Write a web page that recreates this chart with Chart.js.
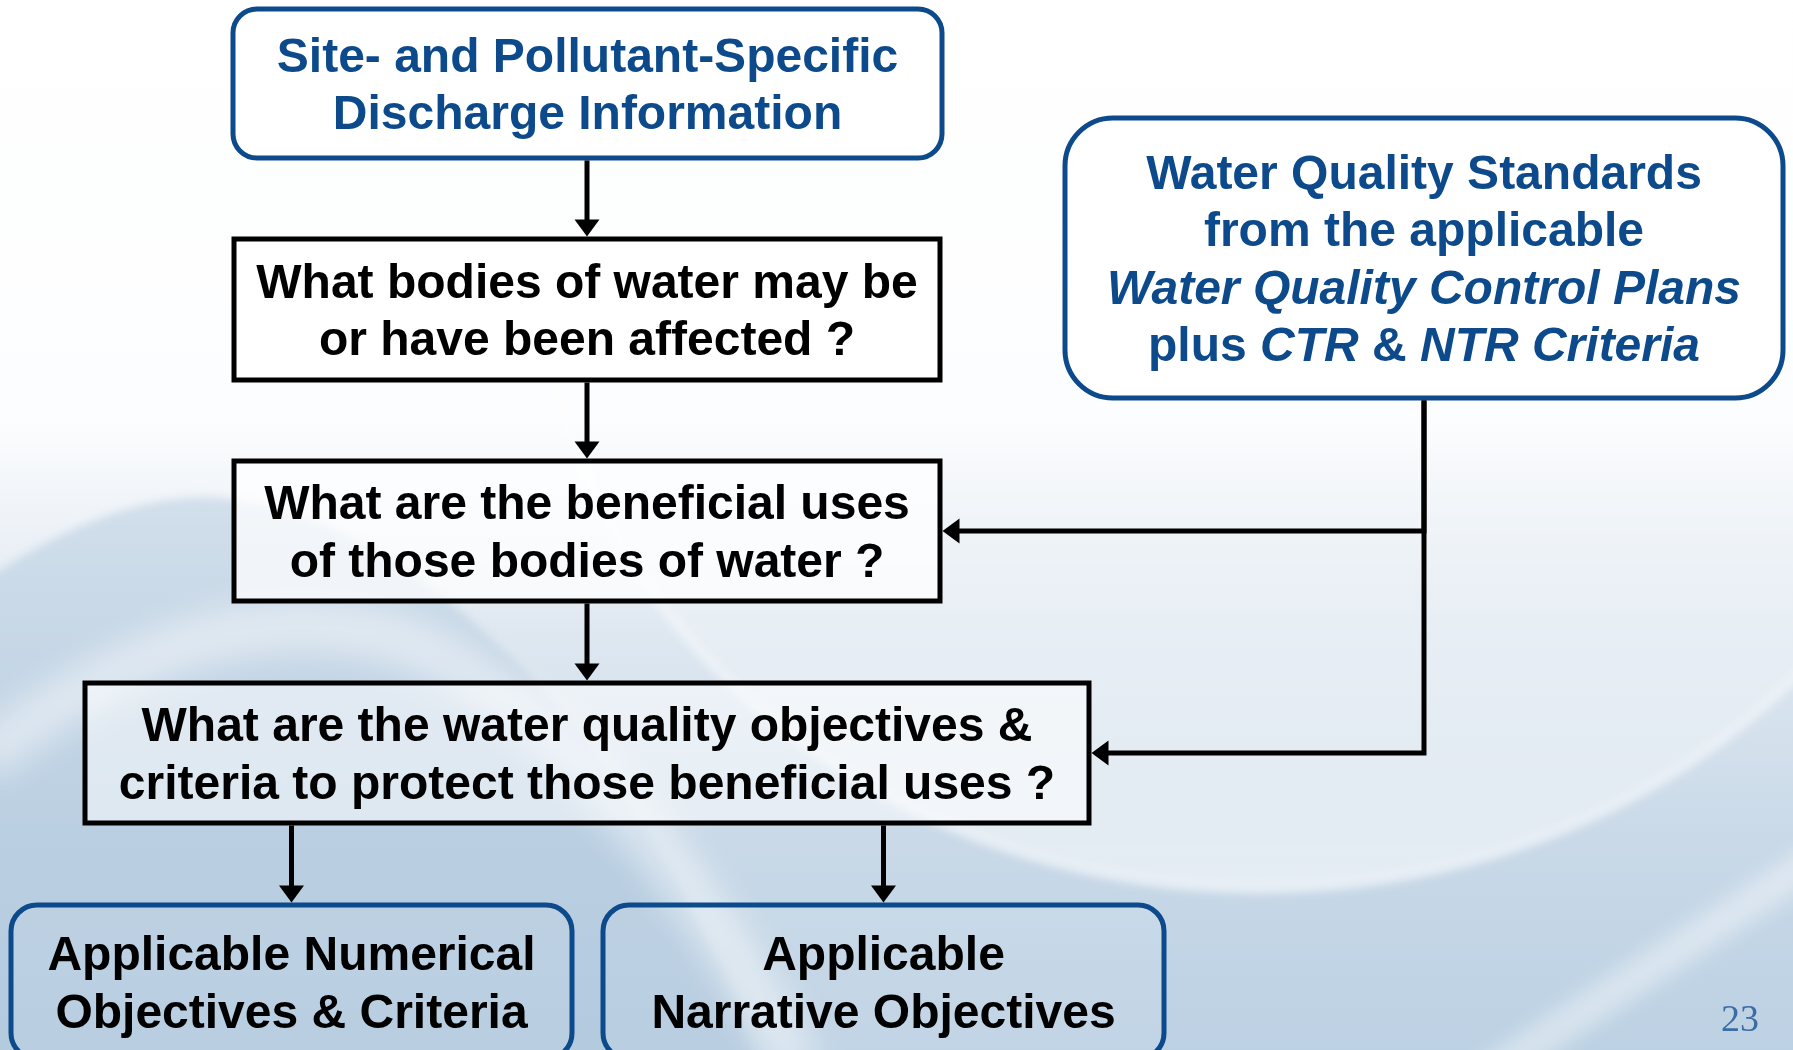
<!DOCTYPE html>
<html><head><meta charset="utf-8">
<script src="https://cdn.jsdelivr.net/npm/chart.js@4.4.1/dist/chart.umd.min.js"></script>
<style>html,body{margin:0;padding:0;background:#fff;overflow:hidden}canvas{display:block}</style>
</head><body>
<canvas id="c" width="1793" height="1050"></canvas>
<script>
// ---------- DATA ----------
const nodeIds = ['source', 'bodies', 'uses', 'objectives', 'standards', 'numerical', 'narrative'];
// text lines per node; _..._ marks italic runs
const nodeText = [
  ['Site- and Pollutant-Specific', 'Discharge Information'],
  ['What bodies of water may be', 'or have been affected ?'],
  ['What are the beneficial uses', 'of those bodies of water ?'],
  ['What are the water quality objectives &', 'criteria to protect those beneficial uses ?'],
  ['Water Quality Standards', 'from the applicable', '_Water Quality Control Plans_', 'plus _CTR_ & _NTR Criteria_'],
  ['Applicable Numerical', 'Objectives & Criteria'],
  ['Applicable', 'Narrative Objectives']
];
const edgeFrom = ['source', 'bodies', 'uses', 'objectives', 'objectives', 'standards', 'standards'];
const edgeTo   = ['bodies', 'uses', 'objectives', 'numerical', 'narrative', 'uses', 'objectives'];
const pageNumber = '23';

// ---------- LAYOUT & STYLE ----------
const W = 1793, H = 1050;
const BLUE = '#0d4a8b';
const layout = {
  source:     { x: 233,  y: 9,   w: 709,  h: 149, round: 24, stroke: BLUE,   fill: '#ffffff',                color: BLUE },
  bodies:     { x: 234,  y: 239, w: 706,  h: 141, round: 0,  stroke: '#000', fill: '#ffffff',                color: '#000' },
  uses:       { x: 234,  y: 461, w: 706,  h: 140, round: 0,  stroke: '#000', fill: 'rgba(255,255,255,0.72)', color: '#000' },
  objectives: { x: 85,   y: 683, w: 1004, h: 140, round: 0,  stroke: '#000', fill: 'rgba(255,255,255,0.5)',  color: '#000' },
  standards:  { x: 1065, y: 118, w: 718,  h: 280, round: 48, stroke: BLUE,   fill: '#ffffff',                color: BLUE },
  numerical:  { x: 11,   y: 905, w: 561,  h: 154, round: 26, stroke: BLUE,   fill: 'rgba(255,255,255,0.08)', color: '#000' },
  narrative:  { x: 603,  y: 905, w: 561,  h: 154, round: 26, stroke: BLUE,   fill: 'rgba(255,255,255,0.08)', color: '#000' }
};
const FONT = '"Liberation Sans", Arial, Helvetica, sans-serif';
const FONT_SIZE = 48, LINE_H = 57.5, TEXT_DY = 4, BORDER = 5, LINE_W = 5, ARROW_L = 17, ARROW_W = 25;

function box(id) {
  const b = layout[id];
  return { l: b.x, r: b.x + b.w, t: b.y, b: b.y + b.h, cx: b.x + b.w / 2, cy: b.y + b.h / 2 };
}
function route(fromId, toId) {
  const f = box(fromId), t = box(toId);
  if (t.cx > f.l && t.cx < f.r) return [{ x: t.cx, y: f.b + BORDER / 2 }, { x: t.cx, y: t.t - BORDER / 2 }];
  return [{ x: f.cx, y: f.b + BORDER / 2 }, { x: f.cx, y: t.cy }, { x: t.r + BORDER / 2, y: t.cy }];
}
const routes = edgeFrom.map((f, i) => route(f, edgeTo[i]));

const datasets = routes.map(pts => {
  const d = pts.map(p => ({ x: p.x, y: p.y }));
  const a = d[d.length - 2], b = d[d.length - 1];
  const len = Math.hypot(b.x - a.x, b.y - a.y);
  d[d.length - 1] = { x: b.x - (b.x - a.x) / len * (ARROW_L - 2), y: b.y - (b.y - a.y) / len * (ARROW_L - 2) };
  return { data: d, showLine: true, borderColor: '#000', borderWidth: LINE_W, pointRadius: 0,
           pointHoverRadius: 0, fill: false, tension: 0, clip: false, borderJoinStyle: 'miter', borderCapStyle: 'butt' };
});

function drawBackground(ctx) {
  ctx.save();
  const g = ctx.createLinearGradient(0, 0, 0, H);
  g.addColorStop(0, '#ffffff'); g.addColorStop(0.4, '#fcfdfe'); g.addColorStop(0.6, '#dfe8f1');
  g.addColorStop(0.8, '#c9d9e8'); g.addColorStop(1, '#bcd1e3');
  ctx.fillStyle = g; ctx.fillRect(0, 0, W, H);

  // lighter ellipse (right-centre)
  ctx.filter = 'blur(5px)';
  ctx.beginPath(); ctx.ellipse(1260, 249, 720, 640, 0, 0, Math.PI * 2);
  const lg = ctx.createLinearGradient(0, 380, 0, 890);
  lg.addColorStop(0, 'rgba(255,255,255,0)'); lg.addColorStop(1, 'rgba(255,255,255,0.55)');
  ctx.fillStyle = lg; ctx.fill();
  ctx.lineWidth = 10; ctx.strokeStyle = 'rgba(255,255,255,0.45)'; ctx.stroke();

  // left blue hump
  ctx.filter = 'blur(4px)';
  ctx.beginPath(); ctx.moveTo(-20, 585);
  ctx.bezierCurveTo(60, 525, 150, 492, 220, 498);
  ctx.bezierCurveTo(330, 510, 420, 570, 520, 665);
  ctx.bezierCurveTo(620, 770, 700, 900, 760, 1070);
  ctx.lineTo(-20, 1070); ctx.closePath();
  ctx.fillStyle = 'rgba(168,194,218,0.42)'; ctx.fill();

  // white swoosh
  ctx.filter = 'blur(16px)';
  ctx.beginPath(); ctx.moveTo(-20, 760);
  ctx.bezierCurveTo(120, 650, 260, 600, 400, 640);
  ctx.bezierCurveTo(560, 700, 700, 880, 800, 1070);
  ctx.strokeStyle = 'rgba(255,255,255,0.45)'; ctx.lineWidth = 50; ctx.stroke();

  // bottom-right stripe
  ctx.filter = 'blur(10px)';
  ctx.beginPath(); ctx.moveTo(1480, 1080); ctx.lineTo(1830, 850);
  ctx.lineWidth = 34; ctx.strokeStyle = 'rgba(255,255,255,0.4)'; ctx.stroke();
  ctx.restore();
}

function roundRect(ctx, x, y, w, h, r) {
  ctx.beginPath();
  if (r > 0) ctx.roundRect(x, y, w, h, r); else ctx.rect(x, y, w, h);
}

function drawText(ctx, str, cx, cy, color) {
  const parts = str.split('_').map((t, i) => ({ t, it: i % 2 === 1 })).filter(p => p.t.length);
  const fontFor = p => (p.it ? 'italic ' : '') + 'bold ' + FONT_SIZE + 'px ' + FONT;
  let total = 0;
  parts.forEach(p => { ctx.font = fontFor(p); p.w = ctx.measureText(p.t).width; total += p.w; });
  let x = cx - total / 2;
  ctx.fillStyle = color; ctx.textBaseline = 'middle'; ctx.textAlign = 'left';
  parts.forEach(p => { ctx.font = fontFor(p); ctx.fillText(p.t, x, cy); x += p.w; });
}

const flowPlugin = {
  id: 'flow',
  beforeDraw(chart) { drawBackground(chart.ctx); },
  beforeDatasetsDraw(chart) {
    const ctx = chart.ctx, sx = chart.scales.x, sy = chart.scales.y;
    ctx.save();
    nodeIds.forEach(id => {
      const L = layout[id];
      const x0 = sx.getPixelForValue(L.x), x1 = sx.getPixelForValue(L.x + L.w);
      const y0 = sy.getPixelForValue(L.y), y1 = sy.getPixelForValue(L.y + L.h);
      roundRect(ctx, x0, y0, x1 - x0, y1 - y0, L.round);
      ctx.fillStyle = L.fill; ctx.fill();
      ctx.lineWidth = BORDER; ctx.strokeStyle = L.stroke; ctx.lineJoin = 'miter'; ctx.stroke();
    });
    ctx.restore();
  },
  afterDatasetsDraw(chart) {
    const ctx = chart.ctx, sx = chart.scales.x, sy = chart.scales.y;
    ctx.save();
    // arrowheads
    routes.forEach(pts => {
      const a = pts[pts.length - 2], b = pts[pts.length - 1];
      const ax = sx.getPixelForValue(a.x), ay = sy.getPixelForValue(a.y);
      const bx = sx.getPixelForValue(b.x), by = sy.getPixelForValue(b.y);
      const len = Math.hypot(bx - ax, by - ay), ux = (bx - ax) / len, uy = (by - ay) / len;
      ctx.beginPath();
      ctx.moveTo(bx, by);
      ctx.lineTo(bx - ux * ARROW_L - uy * ARROW_W / 2, by - uy * ARROW_L + ux * ARROW_W / 2);
      ctx.lineTo(bx - ux * ARROW_L + uy * ARROW_W / 2, by - uy * ARROW_L - ux * ARROW_W / 2);
      ctx.closePath(); ctx.fillStyle = '#000'; ctx.fill();
    });
    // node text
    nodeIds.forEach((id, i) => {
      const b = box(id), lines = nodeText[i];
      const cx = sx.getPixelForValue(b.cx), cy = sy.getPixelForValue(b.cy + TEXT_DY);
      lines.forEach((ln, j) => drawText(ctx, ln, cx, cy + (j - (lines.length - 1) / 2) * LINE_H, layout[id].color));
    });
    // page number
    ctx.font = '38px "Liberation Serif", "Times New Roman", serif';
    ctx.fillStyle = '#3a6ca6'; ctx.textAlign = 'right'; ctx.textBaseline = 'alphabetic';
    ctx.fillText(pageNumber, sx.getPixelForValue(1759), sy.getPixelForValue(1031));
    ctx.restore();
  }
};

new Chart(document.getElementById('c'), {
  type: 'scatter',
  data: { datasets },
  options: {
    responsive: false, animation: false, devicePixelRatio: 1,
    layout: { padding: 0 },
    scales: {
      x: { type: 'linear', min: 0, max: W, display: false },
      y: { type: 'linear', min: 0, max: H, reverse: true, display: false }
    },
    plugins: { legend: { display: false }, tooltip: { enabled: false } },
    events: []
  },
  plugins: [flowPlugin]
});
</script>
</body></html>
